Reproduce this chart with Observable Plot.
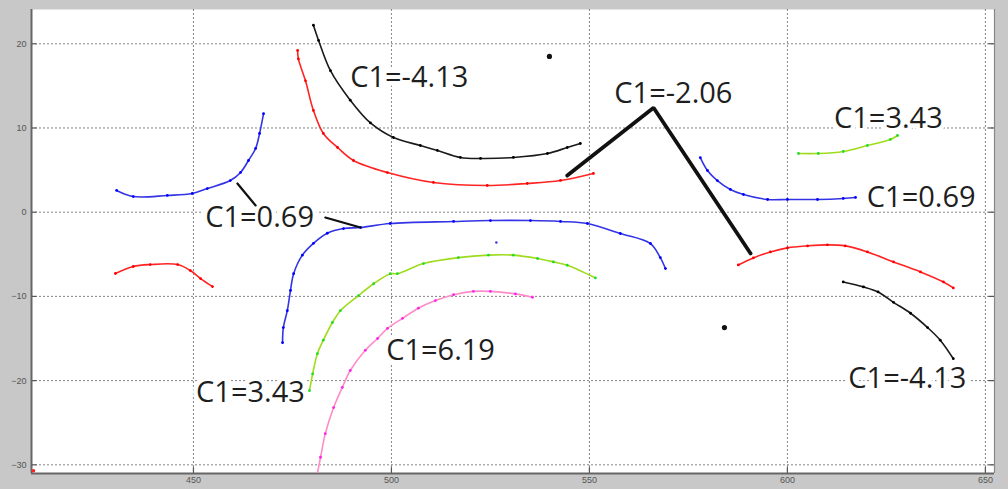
<!DOCTYPE html>
<html>
<head>
<meta charset="utf-8">
<script src="https://cdn.jsdelivr.net/npm/d3@7"></script>
<script src="https://cdn.jsdelivr.net/npm/@observablehq/plot@0.6"></script>
<style>
  html, body { margin: 0; padding: 0; background: #c8c8c8; }
  #chart svg { display: block; }
</style>
</head>
<body>
<div id="chart"></div>
<script>
// ---- axis ticks ----
const xTicks = [450, 500, 550, 600, 650];
const yTicks = [20, 10, 0, -10, -20, -30];
const xDomain = [409.1, 652.3];
const yDomain = [-31.03, 24.07];

// ---- curves (x, y) ----
const blueLeftUpper = [[430.6,2.58],[434.8,1.86],[443.4,1.99],[449.7,2.22],[453.5,2.81],[459.3,3.76],[461.9,4.72],[463.9,6.14],[465.7,7.57],[466.7,9.35],[467.7,11.7]];
const redLeftLower = [[430.3,-7.28],[434.8,-6.45],[439.1,-6.22],[446.0,-6.22],[449.2,-6.93],[451.8,-7.88],[454.8,-8.83]];
const redUpper = [[476.3,19.2],[476.5,18.2],[478.3,15.6],[480.3,12.08],[482.8,9.35],[486.4,7.68],[490.4,6.14],[499.0,4.71],[510.6,3.53],[524.2,3.17],[534.3,3.41],[542.7,3.77],[551.0,4.60]];
const blackUpper = [[480.3,22.2],[481.6,20.4],[484.6,16.8],[489.6,13.3],[494.7,10.6],[500.5,8.87],[507.3,7.92],[511.6,7.33],[517.4,6.50],[522.5,6.38],[530.8,6.50],[539.4,6.97],[544.4,7.68],[547.7,8.16]];
const blueMiddle = [[472.5,-15.5],[472.7,-13.7],[473.7,-11.7],[474.5,-9.3],[475.3,-7.3],[477.5,-5.1],[480.3,-3.7],[483.8,-2.5],[487.9,-1.94],[492.2,-1.82],[499.7,-1.34],[515.7,-1.10],[525.0,-0.99],[535.1,-0.99],[542.7,-1.10],[549.5,-1.34],[557.8,-2.53],[565.4,-3.72],[567.9,-5.39],[569.2,-6.69]];
const greenLower = [[479.3,-21.2],[480.1,-19.2],[481.3,-16.8],[482.8,-15.2],[485.1,-13.1],[487.1,-11.7],[491.7,-9.9],[495.5,-8.5],[499.7,-7.3],[501.5,-7.3],[508.1,-6.1],[516.9,-5.4],[524.5,-5.1],[530.8,-5.1],[536.9,-5.5],[540.9,-5.9],[544.4,-6.3],[551.5,-7.8]];
const pinkLower = [[481.1,-31.5],[482.1,-29.1],[483.3,-26.3],[485.4,-23.2],[487.6,-20.8],[489.6,-18.8],[493.4,-16.4],[496.5,-15.0],[499.0,-13.8],[502.8,-12.6],[506.8,-11.4],[511.1,-10.5],[515.7,-9.8],[520.7,-9.4],[525.0,-9.4],[531.3,-9.7],[535.6,-10.1]];
const blueRightUpper = [[578.0,6.48],[579.8,4.95],[582.3,3.76],[585.6,2.70],[588.9,2.10],[595.0,1.51],[600.0,1.51],[607.6,1.51],[614.1,1.63],[617.2,1.75]];
const greenRightUpper = [[602.8,6.97],[607.8,6.97],[614.1,7.21],[620.2,7.92],[626.0,8.64],[627.8,9.11]];
const redRight = [[587.6,-6.26],[591.4,-5.43],[595.7,-4.72],[600.0,-4.24],[605.1,-4.00],[610.1,-3.88],[614.6,-4.00],[620.2,-4.72],[626.8,-5.90],[633.6,-7.09],[639.4,-8.28],[641.9,-8.99]];
const blackRightLower = [[614.1,-8.28],[619.2,-8.87],[622.9,-9.47],[626.8,-10.7],[631.1,-12.0],[635.4,-13.7],[638.6,-15.2],[641.9,-17.4]];

// ---- isolated points ----
const blackPoints = [[539.9,18.5],[584.1,-13.7]];
const bluePoints = [[526.5,-3.6]];
const redPoints = [[409.6,-30.7]];

// ---- annotation leaders ----
const leaderMinus206 = [[544.4,4.36],[566.2,12.4],[590.7,-4.9]];
const leader069a = [[461.1,3.41],[465.7,0.80]];
const leader069b = [[483.3,-0.63],[492.2,-1.82]];

// ---- labels ----
const labelText = ["C1=-4.13","C1=-2.06","C1=3.43","C1=0.69","C1=-4.13","C1=0.69","C1=3.43","C1=6.19"];
const labelX = [504.5, 571.2, 625.5, 633.8, 630.3, 466.7, 464.4, 512.4];
const labelY = [16.0, 14.1, 11.1, 1.75, -19.8, -0.63, -21.4, -16.5];

// ---- series styles ----
const series = [
  {name: "blueLeftUpper", pts: blueLeftUpper, line: "#3434e6", mark: "#0000ff"},
  {name: "redLeftLower", pts: redLeftLower, line: "#ff2424", mark: "#ff0000"},
  {name: "redUpper", pts: redUpper, line: "#ff2424", mark: "#ff0000"},
  {name: "blackUpper", pts: blackUpper, line: "#1a1a1a", mark: "#000000"},
  {name: "blueMiddle", pts: blueMiddle, line: "#3434e6", mark: "#0000ff"},
  {name: "greenLower", pts: greenLower, line: "#9edc1e", mark: "#22dd22"},
  {name: "pinkLower", pts: pinkLower, line: "#ff8cc8", mark: "#ff22ee"},
  {name: "blueRightUpper", pts: blueRightUpper, line: "#3434e6", mark: "#0000ff"},
  {name: "greenRightUpper", pts: greenRightUpper, line: "#9edc1e", mark: "#22dd22"},
  {name: "redRight", pts: redRight, line: "#ff2424", mark: "#ff0000"},
  {name: "blackRightLower", pts: blackRightLower, line: "#1a1a1a", mark: "#000000"}
];

const rows = series.flatMap(s => s.pts.map(([x, y]) => ({x, y, name: s.name, line: s.line, mark: s.mark})));
const labels = labelText.map((t, i) => ({t, x: labelX[i], y: labelY[i]}));
const pt = a => a.map(([x, y]) => ({x, y}));

const chart = Plot.plot({
  width: 1008,
  height: 489,
  marginLeft: 31,
  marginRight: 14,
  marginTop: 9,
  marginBottom: 16,
  style: {background: "#c8c8c8", overflow: "visible"},
  x: {domain: xDomain, axis: null, label: null},
  y: {domain: yDomain, axis: null, label: null},
  marks: [
    Plot.frame({fill: "white", stroke: "none"}),
    Plot.gridX(xTicks, {stroke: "#777", strokeOpacity: 0.9, strokeDasharray: "2,2"}),
    Plot.gridY(yTicks, {stroke: "#777", strokeOpacity: 0.9, strokeDasharray: "2,2"}),
    // inward tick marks
    Plot.ruleY(yTicks, {y: d => d, x1: xDomain[0], x2: xDomain[0] + 1.4, stroke: "#555", strokeWidth: 1.2}),
    Plot.ruleY(yTicks, {y: d => d, x1: xDomain[1] - 1.4, x2: xDomain[1], stroke: "#555", strokeWidth: 1.2}),
    Plot.ruleX(xTicks, {x: d => d, y1: yDomain[0], y2: yDomain[0] + 0.7, stroke: "#555", strokeWidth: 1.2}),
    // box
    Plot.ruleX([xDomain[0]], {stroke: "#666", strokeWidth: 2}),
    Plot.ruleY([yDomain[0]], {stroke: "#666", strokeWidth: 2}),
    Plot.ruleX([xDomain[1]], {stroke: "#888", strokeWidth: 1.2}),
    // tick labels
    Plot.axisX(xTicks, {anchor: "bottom", label: null, tickSize: 0, tickPadding: 3, fontSize: 9, color: "#555", fontFamily: "Liberation Sans"}),
    Plot.axisY(yTicks, {anchor: "left", label: null, tickSize: 0, tickPadding: 5, fontSize: 9, color: "#555", fontFamily: "Liberation Sans"}),
    // labels with white halo (covers gridlines)
    Plot.text(labels, {x: "x", y: "y", text: "t", fontSize: 29, fontFamily: "Open Sans", fill: "#1e1e1e", stroke: "white", strokeWidth: 9, strokeLinejoin: "round"}),
    // curves
    Plot.line(rows, {x: "x", y: "y", z: "name", stroke: "line", strokeWidth: 1.6, curve: "catmull-rom", clip: true}),
    Plot.dot(rows, {x: "x", y: "y", fill: "mark", r: 1.4, clip: true}),
    Plot.dot(pt(blackPoints), {x: "x", y: "y", fill: "#111", r: 2.6}),
    Plot.dot(pt(bluePoints), {x: "x", y: "y", fill: "#3434e6", r: 1.2}),
    Plot.dot(pt(redPoints), {x: "x", y: "y", fill: "#ff2020", r: 1.8}),
    // leaders
    Plot.line(pt(leaderMinus206), {x: "x", y: "y", stroke: "#111", strokeWidth: 3.8, strokeLinejoin: "miter"}),
    Plot.line(pt(leader069a), {x: "x", y: "y", stroke: "#111", strokeWidth: 2.2}),
    Plot.line(pt(leader069b), {x: "x", y: "y", stroke: "#111", strokeWidth: 2.2})
  ]
});
document.getElementById("chart").appendChild(chart);
</script>
</body>
</html>
